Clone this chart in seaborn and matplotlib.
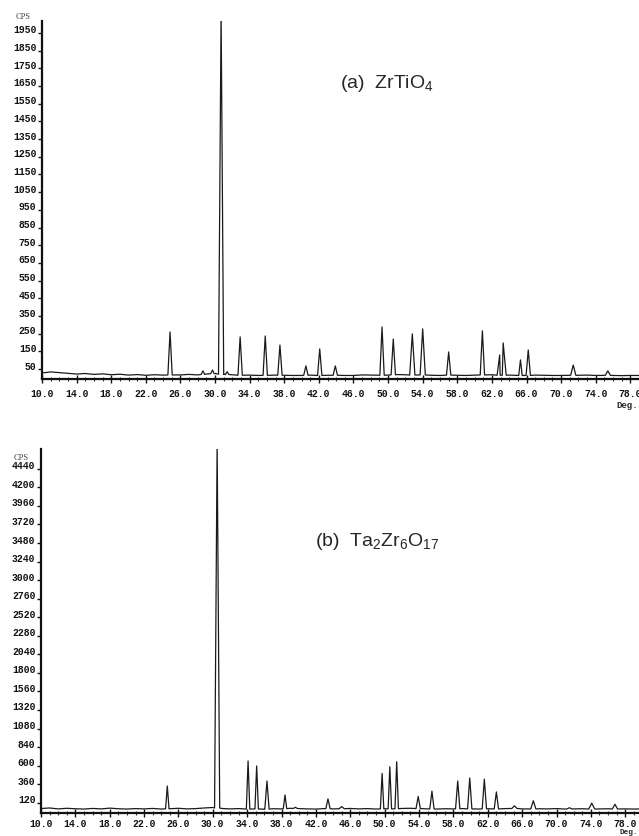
import numpy as np
import pandas as pd
import seaborn as sns
import matplotlib.pyplot as plt
import matplotlib.transforms as mtransforms
from matplotlib.ticker import MultipleLocator

# ---- (a) ZrTiO4 : peaks (2theta deg, cps, half width)
a_pos = [24.8, 28.6, 29.7, 30.7, 31.4, 32.9, 35.8, 37.5, 40.5, 42.1, 43.9,
         49.3, 50.6, 52.8, 54.0, 57.0, 60.9, 62.9, 63.3, 65.3, 66.2, 71.4, 75.4]
a_cps = [260, 40, 45, 2070, 35, 232, 237, 186, 68, 164, 68,
         288, 220, 249, 277, 147, 266, 130, 198, 102, 158, 73, 40]
a_hw = [0.25, 0.2, 0.2, 0.3, 0.2, 0.25, 0.25, 0.25, 0.25, 0.25, 0.25,
        0.25, 0.25, 0.3, 0.3, 0.25, 0.25, 0.3, 0.35, 0.2, 0.25, 0.3, 0.3]
a_base_x = list(range(10, 81, 1))
a_base = [28, 34, 30, 26, 22, 25, 20, 23, 18, 21, 16, 19, 15, 18, 16, 17, 17, 20,
          17, 22, 25, 20, 18, 15, 16, 14, 15, 16, 15, 14, 14, 16, 14, 15, 15, 14,
          14, 17, 16, 15, 16, 19, 18, 16, 17, 15, 14, 16, 15, 14, 16, 17, 18, 15,
          16, 14, 14, 16, 15, 14, 14, 15, 15, 16, 14, 15, 14, 13, 14, 14, 14]
a_yticks = list(range(50, 2000, 100))

# ---- (b) Ta2Zr6O17
b_pos = [24.7, 30.5, 34.1, 35.1, 36.3, 38.4, 39.6, 43.4, 45.0, 49.7, 50.6, 51.4,
         53.9, 55.5, 58.5, 59.9, 61.6, 63.0, 65.1, 67.3, 71.5, 74.1, 76.8]
b_cps = [336, 4780, 660, 595, 401, 220, 60, 170, 70, 500, 585, 650,
         200, 270, 400, 440, 425, 260, 80, 145, 55, 115, 100]
b_hw = [0.2, 0.3, 0.2, 0.2, 0.25, 0.2, 0.25, 0.25, 0.3, 0.2, 0.2, 0.2,
        0.25, 0.25, 0.25, 0.25, 0.25, 0.25, 0.3, 0.3, 0.3, 0.35, 0.3]
b_base_x = list(range(10, 81, 1))
b_base = [45, 52, 40, 48, 42, 38, 46, 40, 50, 42, 38, 44, 40, 46, 38, 42, 48, 40,
          44, 52, 58, 46, 40, 44, 38, 40, 36, 42, 40, 48, 44, 40, 38, 44, 40, 42,
          46, 40, 44, 38, 42, 40, 46, 48, 44, 40, 38, 42, 40, 44, 40, 38, 42, 40,
          44, 46, 40, 38, 42, 40, 44, 38, 40, 42, 38, 40, 42, 38, 40, 38, 40]
b_yticks = list(range(120, 4500, 240))

xticks = np.arange(10, 79, 4)


def trace(bx, by, pos, cps, hw):
    pts = [(x, y) for x, y in zip(bx, by)
           if all(abs(x - p) > w for p, w in zip(pos, hw))]
    for p, c, w in zip(pos, cps, hw):
        b = np.interp(p, bx, by)
        pts += [(p - w, b), (p, c), (p + w, b)]
    pts.sort()
    return pd.DataFrame(pts, columns=["deg", "cps"])


sns.set_style("ticks")
plt.rcParams["font.family"] = ["Liberation Mono", "DejaVu Sans"]
plt.rcParams["mathtext.fontset"] = "custom"
plt.rcParams["mathtext.rm"] = "Liberation Sans"

fig = plt.figure(figsize=(6.39, 8.36), dpi=100)
W, H = 639, 836


def panel(rect_px, df, xlim, ylim, yticks, xpad):
    l, t, r, b = rect_px
    ax = fig.add_axes([l / W, 1 - b / H, (r - l) / W, (b - t) / H])
    sns.lineplot(data=df, x="deg", y="cps", ax=ax, sort=False, estimator=None,
                 color="#1a1a1a", lw=0.9)
    ax.set_xlim(*xlim)
    ax.set_ylim(*ylim)
    ax.set_xticks(xticks)
    ax.set_xticklabels([f"{v:.1f}" for v in xticks])
    ax.xaxis.set_minor_locator(MultipleLocator(1))
    ax.set_yticks(yticks)
    ax.set_yticklabels([str(v) for v in yticks])
    ax.set_xlabel("")
    ax.set_ylabel("")
    sns.despine(ax=ax)
    for s in ("left", "bottom"):
        ax.spines[s].set_linewidth(1.6)
        ax.spines[s].set_color("#111111")
    ax.tick_params(axis="y", direction="out", length=3, width=1, pad=1,
                   labelsize=7, colors="#111111")
    ax.tick_params(axis="x", which="major", direction="inout", length=6,
                   width=1, pad=xpad, labelsize=7, colors="#111111")
    ax.tick_params(axis="x", which="minor", direction="inout", length=3,
                   width=0.8, colors="#333333")
    for lab in ax.get_xticklabels() + ax.get_yticklabels():
        lab.set_fontweight("bold")
    off = mtransforms.ScaledTranslation(0, 2.5 / 72, fig.dpi_scale_trans)
    for lab in ax.get_yticklabels():
        lab.set_transform(lab.get_transform() + off)
    return ax


df_a = trace(a_base_x, a_base, a_pos, a_cps, a_hw)
df_b = trace(b_base_x, b_base, b_pos, b_cps, b_hw)

panel((42, 21, 639, 379), df_a, (10, 79.0), (-6, 2017), a_yticks, 4)
panel((41, 449, 639, 813), df_b, (10, 79.6), (-13, 4696), b_yticks, 1)

fig.text(16 / W, 1 - 17 / H, "CPS", family="Liberation Serif", fontsize=6,
         color="#444444", va="center")
fig.text(14 / W, 1 - 458 / H, "CPS", family="Liberation Serif", fontsize=6,
         color="#444444", va="center")
fig.text(638 / W, 1 - 405 / H, "Deg.", fontsize=6.5, fontweight="bold",
         ha="right", va="center")
fig.text(638 / W, 1 - 829 / H, "Deg.", fontsize=5.5, fontweight="bold",
         ha="right", va="top")

fig.text(340 / W, 1 - 84 / H, r"(a)  ZrTiO$_\mathregular{4}$",
         family="Liberation Sans", fontsize=14, va="center")
fig.text(315 / W, 1 - 541 / H,
         r"(b)  Ta$_\mathregular{2}$Zr$_\mathregular{6}$O$_\mathregular{17}$",
         family="Liberation Sans", fontsize=14, va="center")

fig.savefig("out.png", dpi=100)
